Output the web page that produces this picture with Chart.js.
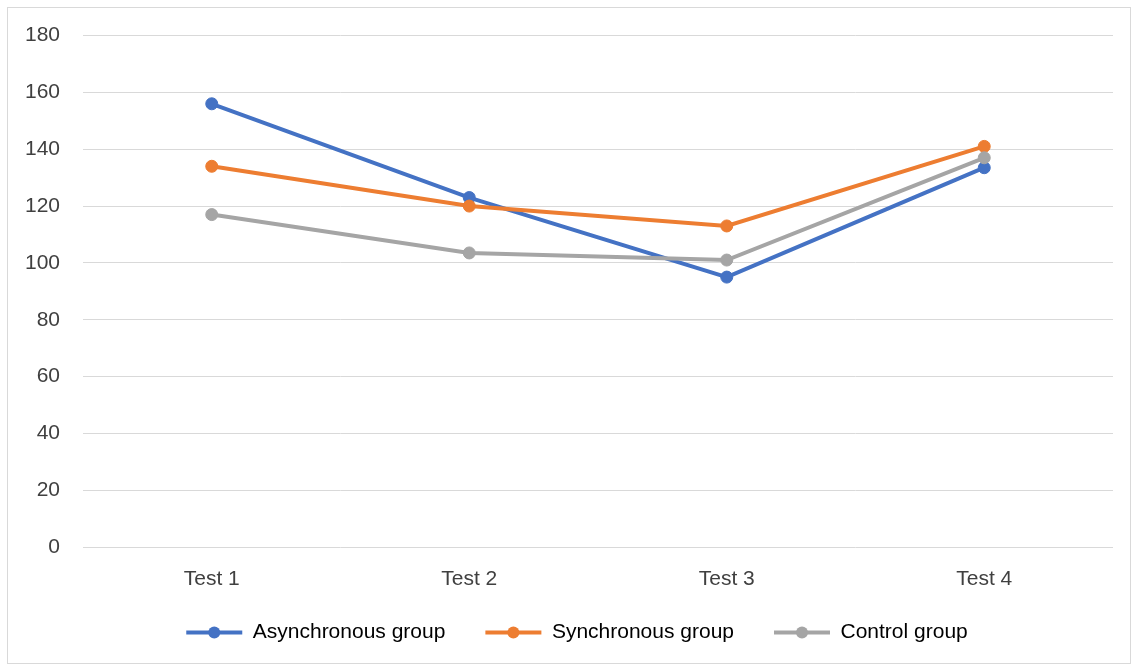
<!DOCTYPE html>
<html>
<head>
<meta charset="utf-8">
<script src="https://cdn.jsdelivr.net/npm/chart.js@4.4.1/dist/chart.umd.min.js"></script>
<style>
  html, body { margin: 0; padding: 0; background: #ffffff; }
  #wrap { position: relative; width: 1132px; height: 666px; }
</style>
</head>
<body>
<div id="wrap"><canvas id="c" width="1132" height="666"></canvas></div>
<script>
const categories = ['Test 1', 'Test 2', 'Test 3', 'Test 4'];
const seriesNames = ['Asynchronous group', 'Synchronous group', 'Control group'];
const asyncValues = [156, 123, 95, 133.5];
const syncValues = [134, 120, 113, 141];
const controlValues = [117, 103.5, 101, 137];
const yTickMin = 0;
const yTickMax = 180;
const yTickStep = 20;

const colors = ['#4472C4', '#ED7D31', '#A5A5A5'];
const FONT = "'Liberation Sans', Arial, sans-serif";
const FS = 21;
const LEGEND_BOX = 56;

Chart.defaults.font.family = FONT;
Chart.defaults.font.size = FS;
Chart.defaults.color = '#404040';

const borderPlugin = {
  id: 'outerBorder',
  beforeDraw(chart) {
    const ctx = chart.ctx;
    ctx.save();
    ctx.fillStyle = '#ffffff';
    ctx.fillRect(0, 0, chart.width, chart.height);
    ctx.strokeStyle = '#d9d9d9';
    ctx.lineWidth = 1;
    ctx.strokeRect(7.5, 7.5, 1123, 656);
    ctx.restore();
  }
};

// nudge the legend block so it sits like the original (centred under the plot, closer to the axis labels)
const legendNudgePlugin = {
  id: 'legendNudge',
  afterLayout(chart) {
    const lg = chart.legend;
    if (!lg) return;
    lg.left += 8; lg.right += 8;
    lg.top -= 11; lg.bottom -= 11;
  }
};

const legendMarkerPlugin = {
  id: 'legendMarkers',
  afterDraw(chart) {
    const lg = chart.legend;
    if (!lg || !lg.legendHitBoxes) return;
    const ctx = chart.ctx;
    ctx.save();
    lg.legendHitBoxes.forEach((hb, i) => {
      const item = lg.legendItems[i];
      ctx.fillStyle = item.fillStyle;
      ctx.beginPath();
      ctx.arc(hb.left + LEGEND_BOX / 2, hb.top + FS / 2, 6, 0, Math.PI * 2);
      ctx.fill();
    });
    ctx.restore();
  }
};

const valueSets = [asyncValues, syncValues, controlValues];
const datasets = seriesNames.map((name, i) => ({
  label: name,
  data: valueSets[i],
  borderColor: colors[i],
  backgroundColor: colors[i],
  pointBackgroundColor: colors[i],
  pointBorderColor: colors[i],
  pointRadius: 6,
  pointBorderWidth: 1,
  borderWidth: 4,
  tension: 0,
  order: seriesNames.length - 1 - i
}));

new Chart(document.getElementById('c'), {
  type: 'line',
  data: { labels: categories, datasets },
  plugins: [borderPlugin, legendNudgePlugin, legendMarkerPlugin],
  options: {
    responsive: false,
    animation: false,
    devicePixelRatio: 1,
    layout: { padding: { top: 35, left: 25, right: 19, bottom: 13 } },
    plugins: {
      tooltip: { enabled: false },
      legend: {
        position: 'bottom',
        maxHeight: 60,
        labels: {
          boxWidth: LEGEND_BOX,
          boxHeight: 4,
          padding: 40,
          color: '#404040',
          generateLabels(chart) {
            return chart.data.datasets.map((ds, i) => ({
              text: ds.label,
              fillStyle: ds.borderColor,
              strokeStyle: ds.borderColor,
              lineWidth: 0,
              hidden: false,
              datasetIndex: i
            }));
          }
        }
      }
    },
    scales: {
      x: {
        type: 'category',
        offset: true,
        grid: { display: false, drawTicks: false },
        border: { display: false },
        ticks: { padding: 20, color: '#404040', maxRotation: 0 },
        afterFit(scale) { scale.height = 46; }
      },
      y: {
        min: yTickMin,
        max: yTickMax,
        grid: { color: '#d9d9d9', lineWidth: 1, drawTicks: false },
        border: { display: false },
        ticks: { stepSize: yTickStep, padding: 23, color: '#404040' },
        afterFit(scale) { scale.width = 58; }
      }
    }
  }
});
</script>
</body>
</html>
